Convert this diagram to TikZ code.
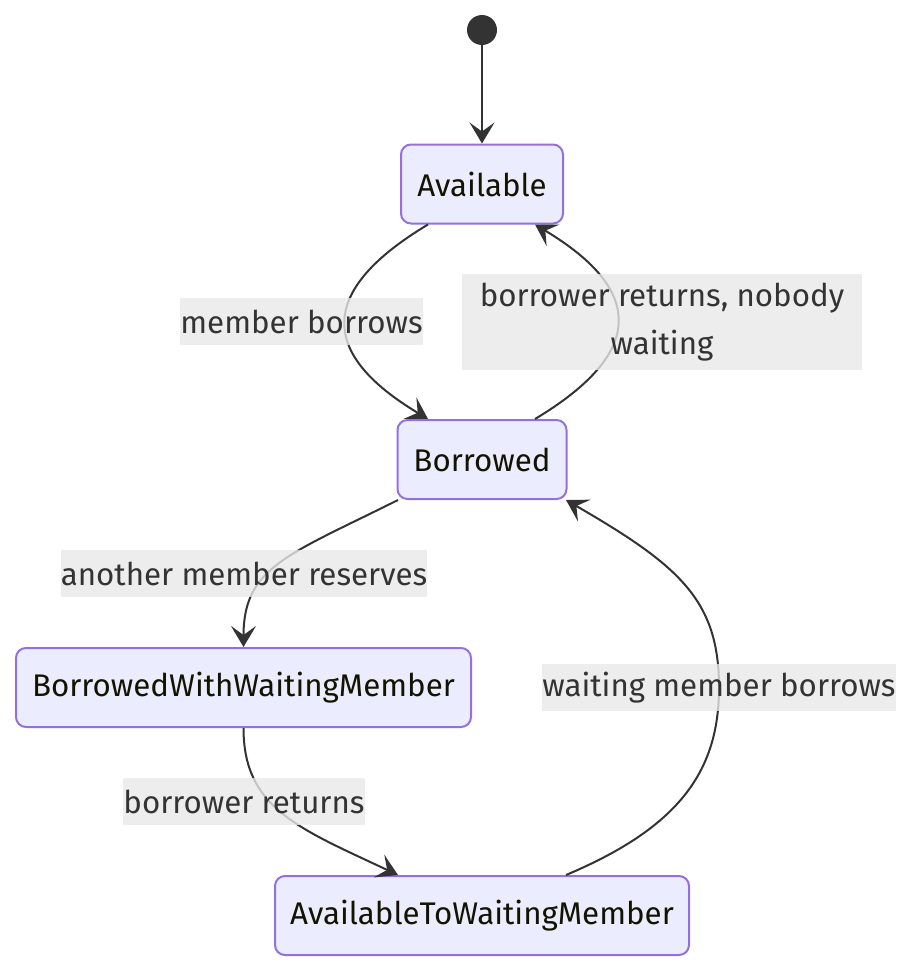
\documentclass[tikz,border=0pt]{standalone}
\usepackage{fontspec}
\setmainfont{Fira Sans}
\usetikzlibrary{arrows.meta}
\definecolor{statefill}{HTML}{ECECFF}
\definecolor{stateline}{HTML}{9370DB}
\definecolor{edgeline}{HTML}{333333}
\definecolor{labelfill}{HTML}{E8E8E8}
\definecolor{statetext}{HTML}{131300}

\begin{document}
\begin{tikzpicture}[x=1pt,y=1pt,
    state/.style={draw=stateline,fill=statefill,line width=2pt,rounded corners=10pt,
        minimum height=79pt,text=statetext,font=\fontsize{31.3}{36}\selectfont},
    trans/.style={draw=edgeline,line width=2pt,
        -{Stealth[length=21pt,width=25pt,inset=9pt]}},
    edgelabel/.style={fill=labelfill,fill opacity=0.8,text opacity=1,text=edgeline,
        inner sep=0pt,minimum height=47pt,align=center,
        font=\fontsize{31.3}{48}\selectfont}]
    \useasboundingbox (0,0) rectangle (914,-972);

    % states
    \node[circle,fill=edgeline,minimum size=30pt,inner sep=0pt] (start) at (482,-30) {};
    \node[state,minimum width=162pt] (avail) at (482,-184) {Available};
    \node[state,minimum width=169pt] (borr) at (482,-459.5) {Borrowed};
    \node[state,minimum width=455pt] (waitm) at (243.5,-687.5) {BorrowedWithWaitingMember};
    \node[state,minimum width=414pt] (towait) at (482,-915.5) {AvailableToWaitingMember};
    \coordinate (bend) at (719,-687.5);

    % transitions
    \draw[trans] (start) -- (avail);
    \draw[trans] ([xshift=-54]avail.south) .. controls +(-110,-66) and +(-110,66) .. ([xshift=-54]borr.north);
    \draw[trans] ([xshift=53]borr.north) .. controls +(110,66) and +(110,-66) .. ([xshift=53]avail.south);
    \draw[trans] ([xshift=-84]borr.south) .. controls +(-110,-55) and +(0,80) .. (waitm.north);
    \draw[trans] (waitm.south) .. controls +(0,-80) and +(-100,47) .. ([xshift=-84]towait.north);
    \draw[trans] ([xshift=84]towait.north) .. controls +(114,48) and +(0,-83) .. (bend)
        .. controls +(0,87) and +(114,-66) .. ([xshift=84]borr.south);

    % labels
    \node[edgelabel] (lborrow) at (301.5,-321.5) {member borrows};
    \node[edgelabel,minimum width=400pt,minimum height=96pt] (lnobody) at (662,-322) {borrower returns, nobody\\waiting};
    \node[edgelabel] (lreserve) at (244,-573.5) {another member reserves};
    \node[edgelabel] (lwaiting) at (bend) {waiting member borrows};
    \node[edgelabel] (lreturn) at (244,-801.5) {borrower returns};
\end{tikzpicture}
\end{document}
